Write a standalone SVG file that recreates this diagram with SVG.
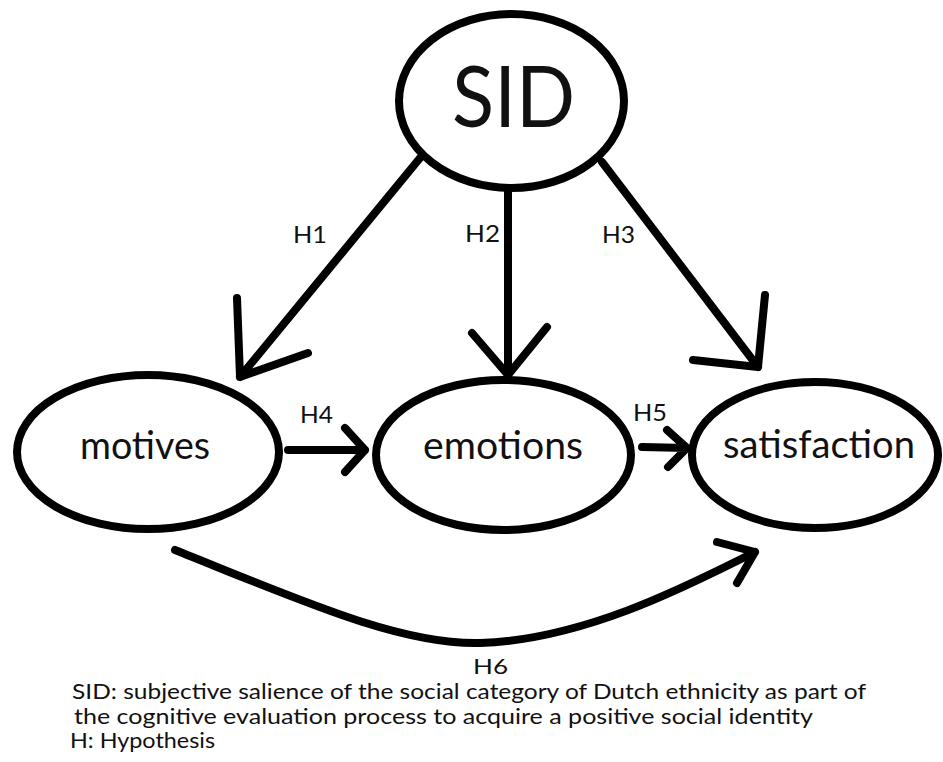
<svg xmlns="http://www.w3.org/2000/svg" width="943" height="762" viewBox="0 0 943 762">
<style>
.node ellipse{fill:#fff;stroke:#000;stroke-width:8}
.edges path{fill:none;stroke:#000;stroke-width:8;stroke-linecap:round;stroke-linejoin:round}
text{font-family:Lato,"Open Sans","Liberation Sans",sans-serif;fill:#111}
.lbl{font-size:24px}
.big{font-size:38px}
.note{font-size:21px}
</style>
<rect width="943" height="762" fill="#fff"/>
<g id="SID" class="node">
<ellipse cx="511.5" cy="101" rx="112.5" ry="87"/>
<text x="452" y="127" font-size="86" textLength="123" lengthAdjust="spacingAndGlyphs">SID</text>
</g>
<g id="motives" class="node">
<ellipse cx="148" cy="452" rx="131" ry="77"/>
<text class="big" x="80" y="459" textLength="130" lengthAdjust="spacingAndGlyphs">motives</text>
</g>
<g id="emotions" class="node">
<ellipse cx="503.5" cy="455" rx="127.5" ry="75"/>
<text class="big" x="423" y="459" textLength="160" lengthAdjust="spacingAndGlyphs">emotions</text>
</g>
<g id="satisfaction" class="node">
<ellipse cx="815" cy="455" rx="123" ry="73"/>
<text class="big" x="723" y="458" textLength="192" lengthAdjust="spacingAndGlyphs">satisfaction</text>
</g>
<g id="connectors" class="edges">
<path d="M420,158 L240,377 M237,298 L240,377 L308,353"/>
<path d="M508,190 L508,375 M472,333 L508,375 L547,327"/>
<path d="M602,162 L758,367 M765,295 L758,367 L693,360"/>
<path d="M288,450 L365,450 M345,428 L365,450 L345,472"/>
<path d="M642,447 L687,448 M667,430 L687,448 L668,467"/>
<path d="M175,550 C300,600 400,645 480,643 C580,640 680,590 755,552 M717,542 L755,552 L737,583"/>
</g>
<g id="labels">
<text class="lbl" x="293" y="243" textLength="34" lengthAdjust="spacingAndGlyphs">H1</text>
<text class="lbl" x="465" y="242" textLength="35" lengthAdjust="spacingAndGlyphs">H2</text>
<text class="lbl" x="602" y="243" textLength="33" lengthAdjust="spacingAndGlyphs">H3</text>
<text class="lbl" x="300" y="423" textLength="33" lengthAdjust="spacingAndGlyphs">H4</text>
<text class="lbl" x="633" y="421" textLength="34" lengthAdjust="spacingAndGlyphs">H5</text>
<text x="473" y="674" font-size="22" textLength="35" lengthAdjust="spacingAndGlyphs">H6</text>
</g>
<g id="legend">
<text class="note" x="72" y="699" textLength="794" lengthAdjust="spacingAndGlyphs">SID: subjective salience of the social category of Dutch ethnicity as part of</text>
<text class="note" x="74" y="724" textLength="739" lengthAdjust="spacingAndGlyphs">the cognitive evaluation process to acquire a positive social identity</text>
<text class="note" x="70" y="748" textLength="145" lengthAdjust="spacingAndGlyphs">H: Hypothesis</text>
</g>
</svg>
